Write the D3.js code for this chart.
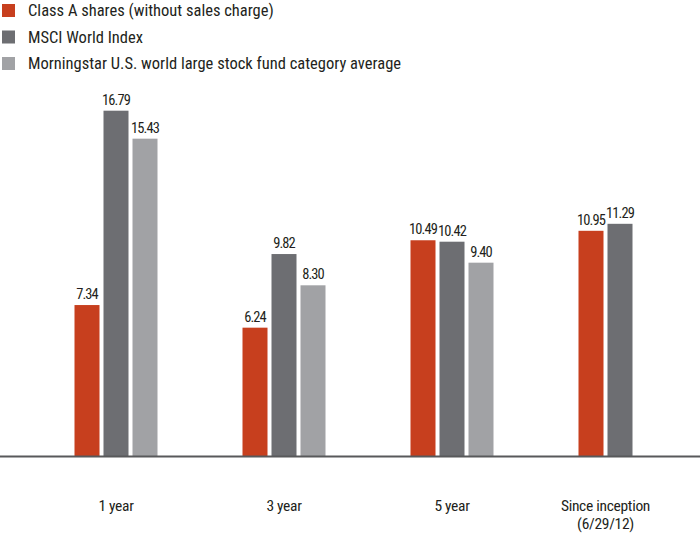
<!DOCTYPE html>
<html><head><meta charset="utf-8">
<script src="https://cdn.jsdelivr.net/npm/d3@7"></script>
<style>body{margin:0;background:#fff}svg{display:block}</style>
</head><body><svg id="c" width="700" height="535"></svg>
<script>
const categories = ["1 year", "3 year", "5 year", "Since inception\n(6/29/12)"];
const seriesNames = ["Class A shares (without sales charge)", "MSCI World Index", "Morningstar U.S. world large stock fund category average"];
const classA = [7.34, 6.24, 10.49, 10.95];
const msci = [16.79, 9.82, 10.42, 11.29];
const morningstar = [15.43, 8.30, 9.40, null];
const colors = ["#C73F1E", "#6D6E72", "#A1A2A5"];

const font = "'Liberation Sans Narrow', 'Roboto Condensed', 'DejaVu Sans Condensed', sans-serif";
const svg = d3.select("#c");
const baseY = 456;
const y = d3.scaleLinear().domain([0, 16.79]).range([baseY, 110.7]);
const x0 = d3.scaleBand().domain(categories).range([32, 704]);
const x1 = d3.scaleBand().domain(d3.range(3)).range([-41.5, 41.5]).paddingInner(4/29);
const series = [classA, msci, morningstar];

categories.forEach((cat, i) => {
  const cx = x0(cat) + x0.bandwidth() / 2;
  const present = [];
  series.forEach((s, j) => {
    const v = s[i];
    if (v == null) return;
    present.push(j);
    const bx = cx + x1(j);
    svg.append("rect").attr("x", bx).attr("y", y(v)).attr("width", x1.bandwidth())
      .attr("height", baseY - y(v)).attr("fill", colors[j]);
    svg.append("text").attr("x", bx + x1.bandwidth() / 2).attr("y", y(v) - 6)
      .attr("text-anchor", "middle").attr("font-family", font).attr("font-size", 14.5)
      .attr("letter-spacing", -0.9).attr("fill", "#231F20").text(v.toFixed(2));
  });
  const lx = cx + d3.mean(present, j => x1(j) + x1.bandwidth() / 2);
  const lines = cat.split("\n");
  lines.forEach((ln, k) => {
    svg.append("text").attr("x", lx).attr("y", 511 + k * 18).attr("text-anchor", "middle")
      .attr("font-family", font).attr("font-size", 15.5).attr("letter-spacing", -0.3)
      .attr("fill", "#231F20").text(ln);
  });
});

svg.append("line").attr("x1", 0).attr("x2", 700).attr("y1", baseY + 0.5).attr("y2", baseY + 0.5)
  .attr("stroke", "#58595B").attr("stroke-width", 2);

seriesNames.forEach((n, j) => {
  const ly = 10 + j * 26.5;
  svg.append("rect").attr("x", 2).attr("y", ly - 6).attr("width", 13).attr("height", 13).attr("fill", colors[j]);
  svg.append("text").attr("x", 28).attr("y", ly + 6).attr("font-family", font).attr("font-size", 16.5)
    .attr("fill", "#231F20").text(n);
});
</script></body></html>
